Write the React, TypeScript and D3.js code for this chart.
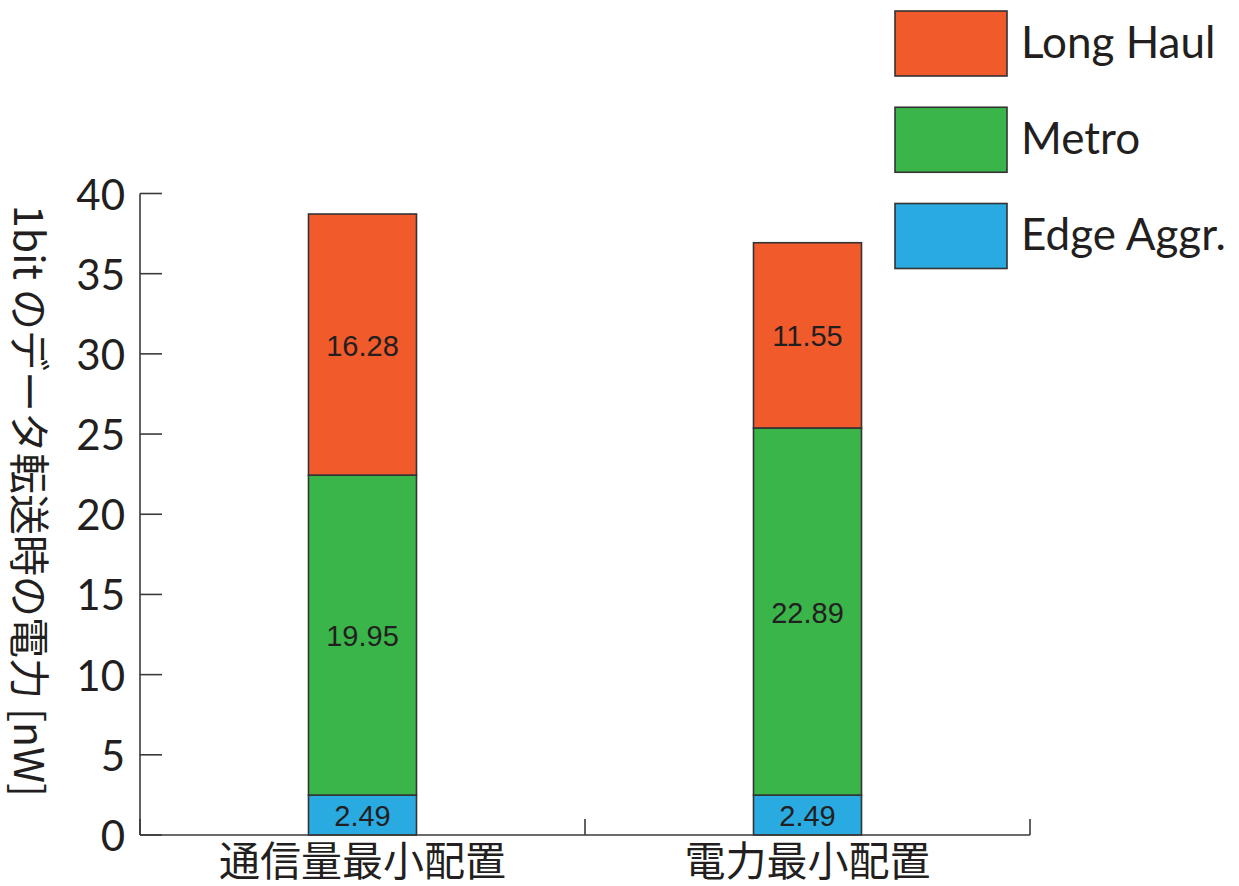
import React from "react";
import * as d3 from "d3";

const categories = ["通信量最小配置", "電力最小配置"];
const seriesNames = ["Edge Aggr.", "Metro", "Long Haul"];
const edgeAggr = [2.49, 2.49];
const metro = [19.95, 22.89];
const longHaul = [16.28, 11.55];
const seriesColors = ["#29aae1", "#3ab54a", "#f15a2b"];
const yTicks = [0, 5, 10, 15, 20, 25, 30, 35, 40];
const yLabel = "1bit のデータ転送時の電力 [nW]";

const W = 1239;
const H = 886;
const left = 140;
const right = 1030;
const bottom = 835;
const top = 193.5;
const barW = 108;

const JP = "'Noto Sans CJK JP', 'Noto Sans', sans-serif";
const LAT = "Lato, 'Noto Sans', sans-serif";
const NUM = "'Liberation Sans', Arial, sans-serif";
const TXT = "#231f20";
const AX = "#3a3a3a";

export default function App() {
  const x = d3.scaleBand<string>().domain(categories).range([left, right]).padding(0);
  const y = d3.scaleLinear().domain([0, 40]).range([bottom, top]);
  const rows = categories.map((c, i) => ({
    cat: c,
    "Edge Aggr.": edgeAggr[i],
    Metro: metro[i],
    "Long Haul": longHaul[i],
  }));
  const stack = d3.stack<any>().keys(seriesNames)(rows);
  const color = d3.scaleOrdinal<string, string>().domain(seriesNames).range(seriesColors);

  const legendOrder = ["Long Haul", "Metro", "Edge Aggr."];
  const legY = d3.scalePoint<string>().domain(legendOrder).range([43.5, 236]);

  const boundaries = [left, ...categories.map((c) => (x(c) as number) + x.bandwidth())];

  return (
    <svg
      width={W}
      height={H}
      style={{ position: "absolute", left: 0, top: 0, background: "#fff" }}
    >
      {/* bars */}
      {stack.map((s) =>
        s.map((d, i) => {
          const cx = (x(categories[i]) as number) + x.bandwidth() / 2;
          const y0 = y(d[0]);
          const y1 = y(d[1]);
          const val = d[1] - d[0];
          return (
            <g key={s.key + i}>
              <rect
                x={cx - barW / 2}
                y={y1}
                width={barW}
                height={y0 - y1}
                fill={color(s.key)}
                stroke="#333"
                strokeWidth={1.6}
              />
              <text
                x={cx}
                y={(y0 + y1) / 2 + 1}
                textAnchor="middle"
                dominantBaseline="central"
                fontFamily={NUM}
                fontSize={29}
                fill={TXT}
              >
                {val.toFixed(2)}
              </text>
            </g>
          );
        })
      )}

      {/* y axis */}
      <line x1={left} x2={left} y1={y(40)} y2={bottom} stroke={AX} strokeWidth={1.6} />
      {yTicks.map((t) => (
        <g key={t}>
          <line x1={left} x2={left + 22} y1={y(t)} y2={y(t)} stroke={AX} strokeWidth={1.6} />
          <text
            x={left - 15}
            y={y(t)}
            textAnchor="end"
            dominantBaseline="central"
            fontFamily={LAT}
            fontSize={42}
            fill={TXT}
          >
            {t}
          </text>
        </g>
      ))}

      {/* x axis */}
      <line x1={left} x2={right} y1={bottom} y2={bottom} stroke={AX} strokeWidth={1.6} />
      {boundaries.map((b, i) => (
        <line key={i} x1={b} x2={b} y1={bottom} y2={bottom - 16} stroke={AX} strokeWidth={1.6} />
      ))}
      {categories.map((c) => (
        <text
          key={c}
          x={(x(c) as number) + x.bandwidth() / 2}
          y={858}
          textAnchor="middle"
          dominantBaseline="central"
          fontFamily={JP}
          fontSize={41}
          fill={TXT}
        >
          {c}
        </text>
      ))}

      {/* y label */}
      <text
        transform={`translate(32,501) rotate(90)`}
        textAnchor="middle"
        dominantBaseline="central"
        fontFamily={JP}
        fontSize={41}
        fill={TXT}
      >
        {yLabel}
      </text>

      {/* legend */}
      {legendOrder.map((k) => {
        const cy = legY(k) as number;
        return (
          <g key={k}>
            <rect
              x={895}
              y={cy - 32.5}
              width={112}
              height={65}
              fill={color(k)}
              stroke="#333"
              strokeWidth={1.6}
            />
            <text x={1021} y={cy + 14} fontFamily={LAT} fontSize={44} fill={TXT}>
              {k}
            </text>
          </g>
        );
      })}
    </svg>
  );
}
